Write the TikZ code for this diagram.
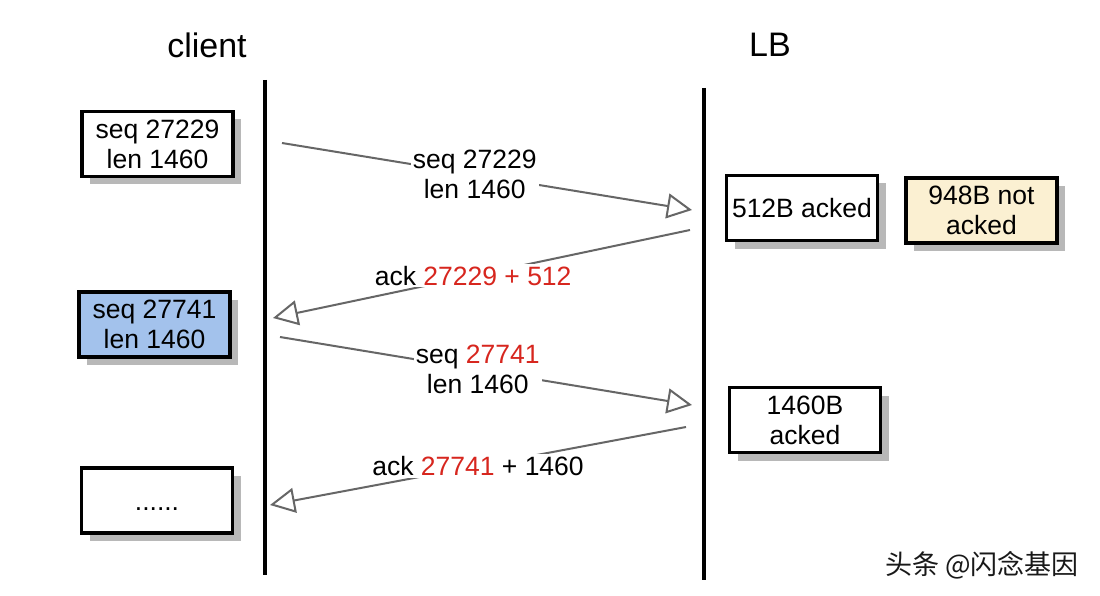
\documentclass[tikz,border=0pt]{standalone}
\usepackage{fontspec}
\setmainfont{Liberation Sans}
\newfontfamily\cjkfont{Noto Sans CJK SC}
\usetikzlibrary{arrows.meta,shadows}

\definecolor{ackred}{HTML}{D7261E}
\definecolor{segblue}{HTML}{A3C2EC}
\definecolor{pendbeige}{HTML}{FBF0D2}

\tikzset{
    segbox/.style={draw=black, line width=3.5pt, fill=white, align=center,
        minimum width=151pt, minimum height=65pt, inner sep=2pt,
        drop shadow={shadow xshift=8pt, shadow yshift=-8pt, fill=black!28, opacity=1}},
    msg/.style={draw=black!60, line width=2pt,
        -{Triangle[open, length=25pt, width=25pt, line width=2pt]}},
    msglabel/.style={fill=white, align=center, inner sep=2pt},
}

\begin{document}
\begin{tikzpicture}[x=1pt, y=-1pt, every node/.style={font=\fontsize{26.5}{30}\selectfont}]
    \fill[white] (0,0) rectangle (1100,596);
    \useasboundingbox (0,0) rectangle (1100,596);
    % hosts and lifelines
    \node[font=\fontsize{34}{40}\selectfont] (client) at (207,45) {client};
    \node[font=\fontsize{34}{40}\selectfont] (lb) at (770,45) {LB};
    \coordinate (cTop) at (265,80);
    \coordinate (cBot) at (265,575);
    \coordinate (lTop) at (704,88);
    \coordinate (lBot) at (704,580);
    \draw[line width=3.5pt] (cTop) -- (cBot);
    \draw[line width=3.5pt] (lTop) -- (lBot);
    % client side segments
    \node[segbox] (seg1) at (157.5,144) {seq 27229\\len 1460};
    \node[segbox, fill=segblue] (seg2) at (154.5,324.5) {seq 27741\\len 1460};
    \node[segbox] (seg3) at (157,500.5) {\raisebox{-20pt}{......}};
    % LB side
    \node[segbox] (lb1) at (802,208) {512B acked};
    \node[segbox, fill=pendbeige] (lb2) at (981.5,210.5) {948B not\\acked};
    \node[segbox] (lb3) at (805,420) {1460B\\acked};
    % messages
    \coordinate (m1s) at (282,143);
    \coordinate (m1e) at (692,210);
    \coordinate (m2s) at (690,230);
    \coordinate (m2e) at (273,318);
    \coordinate (m3s) at (280,337);
    \coordinate (m3e) at (692,405);
    \coordinate (m4s) at (686,427);
    \coordinate (m4e) at (270,505);
    \draw[msg] (m1s) -- node[msglabel, pos=0.47] (m1l) {seq 27229\\len 1460} (m1e);
    \draw[msg] (m2s) -- node[msglabel, pos=0.52] (m2l) {ack \textcolor{ackred}{27229 + 512}} (m2e);
    \draw[msg] (m3s) -- node[msglabel, pos=0.48] (m3l) {seq \textcolor{ackred}{27741}\\len 1460} (m3e);
    \draw[msg] (m4s) -- node[msglabel] (m4l) {ack \textcolor{ackred}{27741} + 1460} (m4e);
    % watermark
    \node[font=\cjkfont\fontsize{27}{30}\selectfont, text=black!90] (mark) at (982,565) {头条 @闪念基因};
\end{tikzpicture}
\end{document}
